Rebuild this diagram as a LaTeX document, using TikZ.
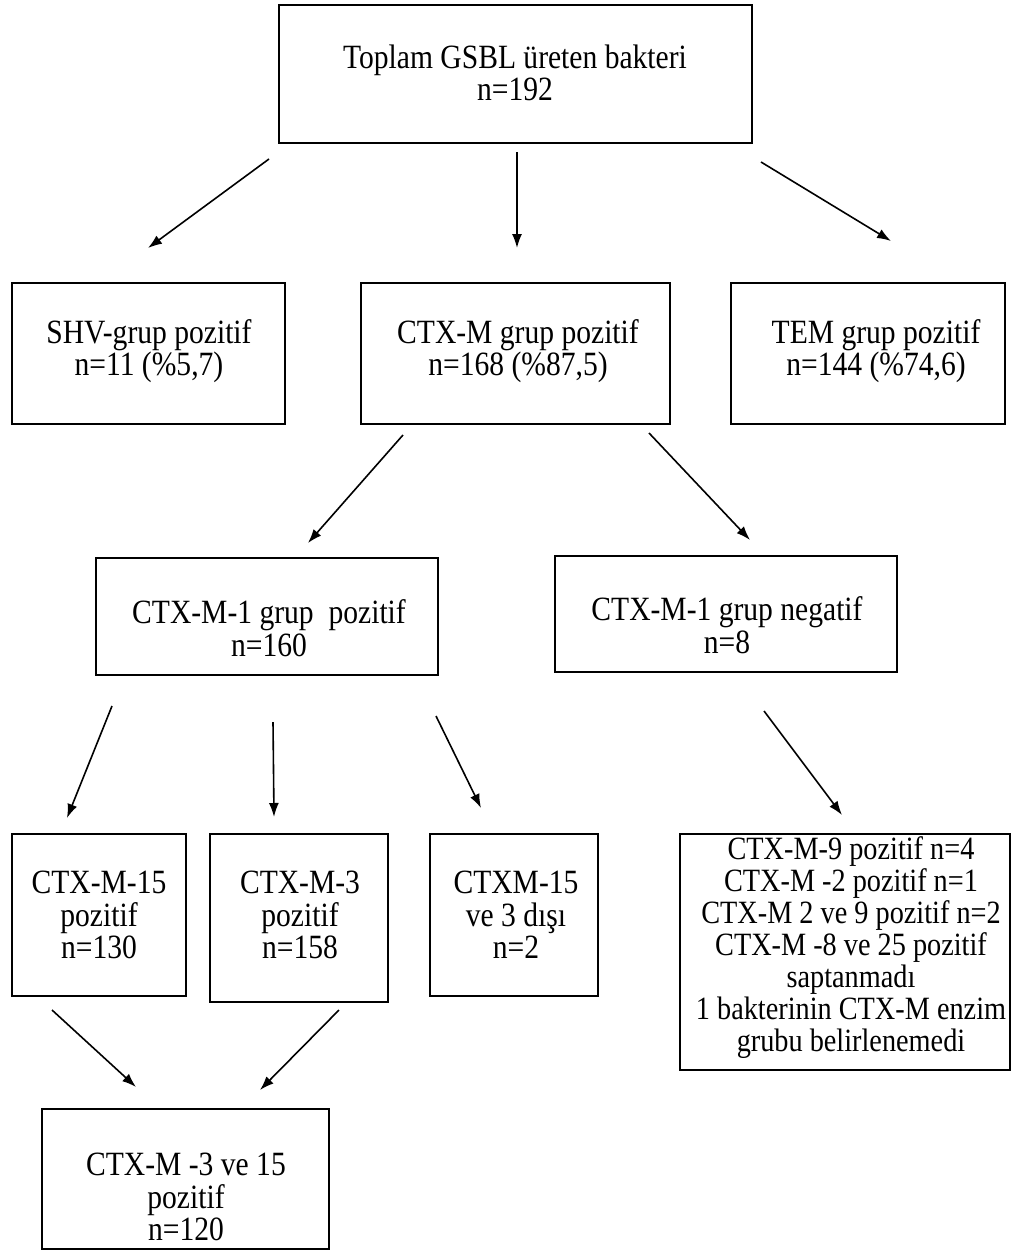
\documentclass[tikz,border=0pt]{standalone}
\usepackage{fontspec}
\setmainfont{Liberation Serif}[FakeStretch=0.87]
\usetikzlibrary{arrows.meta}
\tikzset{
  box/.style={draw=black, line width=2pt, inner sep=0pt, fill=white},
  txt/.style={align=center, inner sep=0pt, font=\fontsize{34}{32.5}\selectfont},
  smalltxt/.style={align=center, inner sep=0pt, font=\fontsize{32.5}{32}\selectfont},
  arr/.style={line width=1.6pt, -{Latex[length=14pt,width=10pt]}}
}
\begin{document}
\begin{tikzpicture}[x=1pt,y=-1pt]
\useasboundingbox[fill=white] (0,0) rectangle (1018,1250);
% boxes
\node[box, minimum width=473pt, minimum height=138pt] (top) at (515.5,74) {};
\node[box, minimum width=273pt, minimum height=141pt] (shv) at (148.5,353.5) {};
\node[box, minimum width=309pt, minimum height=141pt] (ctxm) at (515.5,353.5) {};
\node[box, minimum width=274pt, minimum height=141pt] (tem) at (868,353.5) {};
\node[box, minimum width=342pt, minimum height=117pt] (pos1) at (267,616.5) {};
\node[box, minimum width=342pt, minimum height=116pt] (neg1) at (726,614) {};
\node[box, minimum width=174pt, minimum height=162pt] (c15) at (99,915) {};
\node[box, minimum width=178pt, minimum height=168pt] (c3) at (299,918) {};
\node[box, minimum width=168pt, minimum height=162pt] (cx) at (514,915) {};
\node[box, minimum width=330pt, minimum height=236pt] (big) at (845,952) {};
\node[box, minimum width=287pt, minimum height=140pt] (bot) at (185.5,1179) {};
% texts
\node[txt] (ttop) at (515,73) {Toplam GSBL üreten bakteri\\n=192};
\node[txt] (tshv) at (149,351) {SHV-grup pozitif\\n=11 (\%5,7)};
\node[txt] (tctxm) at (518,351) {CTX-M grup pozitif\\n=168 (\%87,5)};
\node[txt] (ttem) at (876,351) {TEM grup pozitif\\n=144 (\%74,6)};
\node[txt] (tpos1) at (269,628) {CTX-M-1 grup\ \ pozitif\\n=160};
\node[txt] (tneg1) at (727,625) {CTX-M-1 grup negatif\\n=8};
\node[txt] (tc15) at (99,915) {CTX-M-15\\pozitif\\n=130};
\node[txt] (tc3) at (300,915) {CTX-M-3\\pozitif\\n=158};
\node[txt] (tcx) at (516,915) {CTXM-15\\ve 3 dışı\\n=2};
\node[smalltxt] (tbig) at (851,948) {CTX-M-9 pozitif n=4\\CTX-M -2 pozitif n=1\\CTX-M 2 ve 9 pozitif n=2\\CTX-M -8 ve 25 pozitif\\saptanmadı\\1 bakterinin CTX-M enzim\\grubu belirlenemedi};
\node[txt] (tbot) at (186,1197) {CTX-M -3 ve 15\\pozitif\\n=120};
% connector end points
\coordinate (a1s) at (269,159);  \coordinate (a1e) at (148,248);
\coordinate (a2s) at (517,152);  \coordinate (a2e) at (517,248);
\coordinate (a3s) at (761,162);  \coordinate (a3e) at (891,241);
\coordinate (a4s) at (403,435);  \coordinate (a4e) at (308,543);
\coordinate (a5s) at (649,433);  \coordinate (a5e) at (750,540);
\coordinate (a6s) at (112,706);  \coordinate (a6e) at (67,818);
\coordinate (a7s) at (273,722);  \coordinate (a7e) at (274,817);
\coordinate (a8s) at (436,716);  \coordinate (a8e) at (481,808);
\coordinate (a9s) at (764,711);  \coordinate (a9e) at (842,815);
\coordinate (a10s) at (52,1010); \coordinate (a10e) at (136,1087);
\coordinate (a11s) at (339,1010);\coordinate (a11e) at (260,1090);
\foreach \i in {1,...,11} \draw[arr] (a\i s) -- (a\i e);
\end{tikzpicture}
\end{document}
